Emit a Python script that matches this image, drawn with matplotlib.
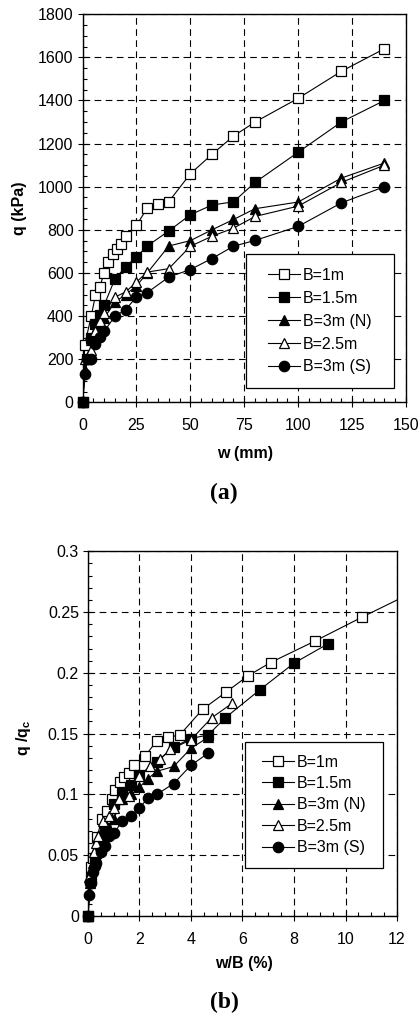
import numpy as np
import matplotlib.pyplot as plt
from matplotlib.patches import Rectangle
from matplotlib.ticker import MultipleLocator

plt.rcParams['font.family'] = ['Liberation Sans', 'DejaVu Sans']
plt.rcParams['mathtext.default'] = 'regular'

labels = ['B=1m', 'B=1.5m', 'B=3m (N)', 'B=2.5m', 'B=3m (S)']
markers = ['s', 's', '^', '^', 'o']
filled = [False, True, True, False, True]

# (a) q (kPa) vs w (mm)
w_b1 = [0, 1, 4, 6, 8, 10, 12, 14, 16, 18, 20, 25, 30, 35, 40, 50, 60, 70, 80, 100, 120, 140]
q_b1 = [0, 265, 400, 496, 535, 601, 651, 690, 711, 733, 770, 821, 901, 922, 931, 1060, 1150, 1235, 1300, 1410, 1535, 1640]
w_b15 = [0, 2, 4, 6, 8, 10, 15, 20, 25, 30, 40, 50, 60, 70, 80, 100, 120, 140]
q_b15 = [0, 200, 300, 365, 404, 450, 572, 629, 674, 725, 795, 870, 915, 930, 1020, 1160, 1300, 1400]
w_b3n = [0, 1, 2, 4, 6, 8, 10, 15, 20, 25, 30, 40, 50, 60, 70, 80, 100, 120, 140]
q_b3n = [0, 150, 200, 290, 330, 360, 390, 465, 500, 540, 600, 725, 750, 800, 848, 898, 929, 1040, 1110]
w_b25 = [0, 1, 4, 6, 8, 10, 15, 20, 25, 30, 40, 50, 60, 70, 80, 100, 120, 140]
q_b25 = [0, 200, 244, 330, 377, 414, 488, 512, 558, 604, 620, 724, 770, 808, 862, 910, 1020, 1100]
w_b3s = [0, 1, 2, 4, 6, 8, 10, 15, 20, 25, 30, 40, 50, 60, 70, 80, 100, 120, 140]
q_b3s = [0, 130, 200, 200, 270, 305, 329, 399, 430, 489, 509, 581, 616, 667, 724, 751, 816, 925, 1000]

# (b) q/qc vs w/B (%)
x_b1 = [0, 0.1, 0.18, 0.36, 0.53, 0.73, 0.92, 1.05, 1.24, 1.40, 1.60, 1.80, 2.23, 2.67, 3.12, 3.57, 4.45, 5.35, 6.21, 7.09, 8.8, 10.63, 13.5]
y_b1 = [0, 0.040, 0.048, 0.065, 0.080, 0.086, 0.096, 0.104, 0.110, 0.114, 0.118, 0.124, 0.132, 0.144, 0.147, 0.149, 0.170, 0.184, 0.1975, 0.2085, 0.226, 0.2457, 0.2755]
x_b15 = [0, 0.13, 0.27, 0.4, 0.53, 0.67, 1.0, 1.33, 1.67, 2.0, 2.67, 3.33, 4.0, 4.67, 5.33, 6.67, 8.0, 9.33]
y_b15 = [0, 0.032, 0.048, 0.058, 0.065, 0.072, 0.092, 0.101, 0.108, 0.116, 0.127, 0.139, 0.146, 0.149, 0.163, 0.186, 0.208, 0.224]
x_b3n = [0, 0.03, 0.07, 0.13, 0.2, 0.27, 0.33, 0.5, 0.67, 0.83, 1.0, 1.33, 1.67, 2.0, 2.33, 2.67, 3.33, 4.0, 4.67]
y_b3n = [0, 0.020, 0.027, 0.038, 0.044, 0.048, 0.052, 0.062, 0.066, 0.072, 0.080, 0.096, 0.100, 0.106, 0.113, 0.119, 0.123, 0.138, 0.147]
x_b25 = [0, 0.04, 0.16, 0.24, 0.32, 0.4, 0.6, 0.8, 1.0, 1.2, 1.6, 2.0, 2.4, 2.8, 3.2, 4.0, 4.8, 5.6]
y_b25 = [0, 0.032, 0.039, 0.053, 0.060, 0.066, 0.078, 0.082, 0.089, 0.096, 0.099, 0.115, 0.123, 0.129, 0.137, 0.145, 0.163, 0.175]
x_b3s = [0, 0.03, 0.07, 0.13, 0.2, 0.27, 0.33, 0.5, 0.67, 0.83, 1.0, 1.33, 1.67, 2.0, 2.33, 2.67, 3.33, 4.0, 4.67]
y_b3s = [0, 0.017, 0.027, 0.027, 0.036, 0.041, 0.044, 0.053, 0.058, 0.066, 0.068, 0.078, 0.082, 0.089, 0.097, 0.100, 0.109, 0.124, 0.134]

top = [(w_b1, q_b1), (w_b15, q_b15), (w_b3n, q_b3n), (w_b25, q_b25), (w_b3s, q_b3s)]
bot = [(x_b1, y_b1), (x_b15, y_b15), (x_b3n, y_b3n), (x_b25, y_b25), (x_b3s, y_b3s)]

fig = plt.figure(figsize=(4.19, 10.16), dpi=100)
ax1 = fig.add_axes([0.197, 0.604, 0.772, 0.382])
ax2 = fig.add_axes([0.210, 0.0984, 0.7375, 0.359])

FS = 11.5


def draw(ax, series, xmax):
    for (x, y), lab, m, f in zip(series, labels, markers, filled):
        ms = 7.5 if m == 'o' else 7.5 if m == '^' else 6.8
        kw = dict(marker=m, ms=ms, mfc='black' if f else 'white',
                  mec='black', mew=0.9)
        # line clipped to the axes, with a proxy for the legend
        ax.plot(x, y, color='black', lw=0.8, zorder=3)
        ax.plot([], [], color='black', lw=0.8, label=lab, **kw)
        # markers unclipped so the origin marker shows in full
        xs = np.array(x)
        ys = np.array(y)
        keep = xs <= xmax
        ax.plot(xs[keep], ys[keep], ls='none', clip_on=False, zorder=4, **kw)


def style(ax):
    ax.grid(True, which='major', color='black', ls=(0, (6, 4)), lw=0.8)
    ax.tick_params(which='major', direction='inout', length=7, width=0.8,
                   labelsize=FS, pad=3)
    ax.tick_params(axis='x', which='major', pad=8)
    ax.tick_params(which='minor', direction='in', length=3, width=0.8)
    for s in ax.spines.values():
        s.set_linewidth(1.0)


def legend(ax, box, rowgap):
    x0, y0, x1, y1 = box
    ax.add_patch(Rectangle((x0, y0), x1 - x0, y1 - y0, transform=ax.transAxes,
                           fc='white', ec='black', lw=0.9, zorder=5))
    leg = ax.legend(loc='center', bbox_to_anchor=((x0 + x1) / 2, (y0 + y1) / 2),
                    frameon=False, fontsize=FS, handlelength=1.95,
                    handletextpad=0.2, labelspacing=rowgap, borderpad=0)
    leg.set_zorder(6)


draw(ax1, top, 150)
ax1.set_xlim(0, 150)
ax1.set_ylim(0, 1800)
ax1.xaxis.set_major_locator(MultipleLocator(25))
ax1.xaxis.set_minor_locator(MultipleLocator(5))
ax1.yaxis.set_major_locator(MultipleLocator(200))
ax1.yaxis.set_minor_locator(MultipleLocator(50))
style(ax1)
ax1.set_xlabel('w (mm)', fontsize=FS, fontweight='bold', va='top')
ax1.xaxis.set_label_coords(0.502, -0.113)
ax1.set_ylabel('q (kPa)', fontsize=FS, fontweight='bold')
ax1.yaxis.set_label_coords(-0.171, 0.5)
legend(ax1, (0.504, 0.038, 0.964, 0.381), 0.5)

draw(ax2, bot, 12)
ax2.set_xlim(0, 12)
ax2.set_ylim(0, 0.3)
ax2.xaxis.set_minor_locator(MultipleLocator(0.5))
ax2.yaxis.set_minor_locator(MultipleLocator(0.01))
ax2.set_yticks([0, 0.05, 0.1, 0.15, 0.2, 0.25, 0.3])
ax2.set_yticklabels(['0', '0.05', '0.1', '0.15', '0.2', '0.25', '0.3'])
ax2.set_xticks([0, 2, 4, 6, 8, 10, 12])
style(ax2)
ax2.set_xlabel('w/B (%)', fontsize=FS, fontweight='bold', va='top')
ax2.xaxis.set_label_coords(0.505, -0.110)
ax2.set_ylabel('q /q$_{c}$', fontsize=FS, fontweight='bold')
ax2.yaxis.set_label_coords(-0.177, 0.488)
legend(ax2, (0.508, 0.133, 0.954, 0.476), 0.4)

fig.text(224 / 419, 1 - 493 / 1016, '(a)', ha='center', va='center',
         fontsize=17, fontweight='bold', family='Liberation Serif')
fig.text(224 / 419, 1 - 1002 / 1016, '(b)', ha='center', va='center',
         fontsize=17, fontweight='bold', family='Liberation Serif')

fig.savefig('out.png', dpi=100)
